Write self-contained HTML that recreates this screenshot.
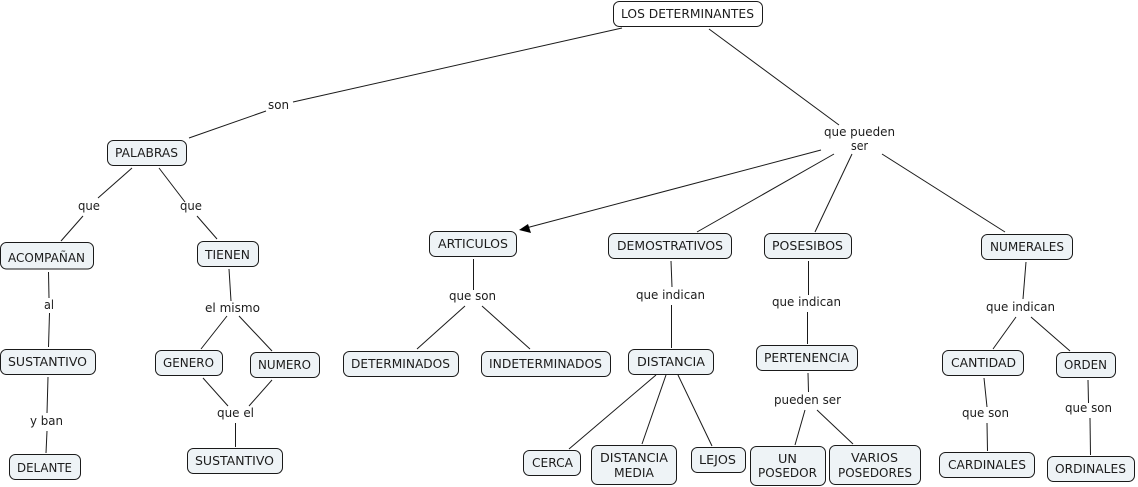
<!DOCTYPE html>
<html><head><meta charset="utf-8"><style>
html,body{margin:0;padding:0;background:#fff;width:1138px;height:487px;overflow:hidden}
svg{display:block}
text{font-family:"DejaVu Sans","Liberation Sans",sans-serif;font-size:12px;fill:#1c1c1c}
rect{fill:#eef3f6;stroke:#1a1a1a;stroke-width:1}
line{stroke:#1a1a1a;stroke-width:1}
</style></head><body>
<svg width="1138" height="487" viewBox="0 0 1138 487" xmlns="http://www.w3.org/2000/svg" lengthAdjust="spacingAndGlyphs">
<g>
<line x1="622" y1="28" x2="293" y2="102"/><line x1="266" y1="111" x2="189" y2="138"/>
<line x1="709" y1="29" x2="839" y2="125"/>
<line x1="821" y1="150" x2="526" y2="228"/>
<line x1="834" y1="154" x2="697" y2="232"/>
<line x1="852" y1="154" x2="815" y2="232"/>
<line x1="882" y1="154" x2="1005" y2="232"/>
<line x1="132" y1="168" x2="98" y2="198"/><line x1="83" y1="216" x2="61" y2="241"/>
<line x1="159" y1="168" x2="185" y2="202"/><line x1="197" y1="216" x2="217" y2="239"/>
<line x1="48.5" y1="272" x2="49" y2="298"/><line x1="49.5" y1="313" x2="48.5" y2="347"/>
<line x1="48" y1="377" x2="47" y2="413"/><line x1="47" y1="431" x2="46" y2="453"/>
<line x1="229" y1="269" x2="231" y2="301"/>
<line x1="227" y1="316" x2="201" y2="349"/><line x1="239" y1="316" x2="272" y2="351"/>
<line x1="203" y1="378" x2="228" y2="406"/><line x1="272" y1="380" x2="249" y2="406"/>
<line x1="235.5" y1="423" x2="235.5" y2="447"/>
<line x1="473.5" y1="259" x2="473.5" y2="290"/>
<line x1="465" y1="306" x2="417" y2="349"/><line x1="482" y1="306" x2="530" y2="349"/>
<line x1="671" y1="261" x2="672" y2="287"/><line x1="671.5" y1="305" x2="671.5" y2="348"/>
<line x1="656" y1="375" x2="569" y2="449"/><line x1="666" y1="375" x2="642" y2="444"/><line x1="678" y1="375" x2="712" y2="446"/>
<line x1="808.5" y1="261" x2="808.5" y2="295"/><line x1="807.5" y1="312" x2="807.5" y2="344"/>
<line x1="808" y1="373" x2="808.5" y2="392"/>
<line x1="805" y1="410" x2="795" y2="445"/><line x1="817" y1="410" x2="853" y2="444"/>
<line x1="1026" y1="262" x2="1023" y2="299"/>
<line x1="1016" y1="317" x2="993" y2="349"/><line x1="1031" y1="317" x2="1070" y2="351"/>
<line x1="984" y1="378" x2="987" y2="407"/><line x1="987" y1="423" x2="987.5" y2="451"/>
<line x1="1088" y1="380" x2="1088.5" y2="403"/><line x1="1090" y1="418" x2="1090.5" y2="455"/>
<polygon points="519,230 528,224 531,233" fill="#000"/>
</g>
<g>
<rect x="613.5" y="1.5" width="149" height="25" rx="6" style="fill:#fff"/>
<rect x="107.5" y="140.5" width="79" height="25" rx="6"/>
<rect x="0.5" y="242.5" width="93" height="26.5" rx="6"/>
<rect x="197.5" y="241.5" width="61" height="25" rx="6"/>
<rect x="0.5" y="349.5" width="95" height="25" rx="6"/>
<rect x="155.5" y="350.5" width="67" height="25" rx="6"/>
<rect x="250.5" y="352.5" width="69" height="25" rx="6"/>
<rect x="9.5" y="454.5" width="71" height="25" rx="6"/>
<rect x="187.5" y="448.5" width="95" height="25" rx="6"/>
<rect x="429.5" y="231.5" width="87" height="25" rx="6"/>
<rect x="608.5" y="233.5" width="123" height="25" rx="6"/>
<rect x="343.5" y="351.5" width="115" height="25" rx="6"/>
<rect x="481.5" y="351.5" width="129" height="25" rx="6"/>
<rect x="628.5" y="349.5" width="85" height="25" rx="6"/>
<rect x="523.5" y="450.5" width="57" height="25" rx="6"/>
<rect x="591.5" y="445.5" width="85" height="39" rx="6"/>
<rect x="691.5" y="447.5" width="54" height="25" rx="6"/>
<rect x="764.5" y="233.5" width="87" height="25" rx="6"/>
<rect x="981.5" y="234.5" width="91" height="25" rx="6"/>
<rect x="756.5" y="345.5" width="101" height="25" rx="6"/>
<rect x="942.5" y="350.5" width="81" height="25" rx="6"/>
<rect x="1056.5" y="352.5" width="59" height="25" rx="6"/>
<rect x="750.5" y="446.5" width="75" height="39" rx="6"/>
<rect x="829.5" y="445.5" width="91" height="39" rx="6"/>
<rect x="939.5" y="452.5" width="95" height="25" rx="6"/>
<rect x="1047.5" y="456.5" width="87" height="25" rx="6"/>
</g>
<g>
<text x="621" y="18" textLength="133" lengthAdjust="spacingAndGlyphs">LOS DETERMINANTES</text>
<text x="115" y="157" textLength="63" lengthAdjust="spacingAndGlyphs">PALABRAS</text>
<text x="8" y="262" textLength="77" lengthAdjust="spacingAndGlyphs">ACOMPAÑAN</text>
<text x="205" y="259" textLength="45" lengthAdjust="spacingAndGlyphs">TIENEN</text>
<text x="8" y="366" textLength="79" lengthAdjust="spacingAndGlyphs">SUSTANTIVO</text>
<text x="163" y="367" textLength="51" lengthAdjust="spacingAndGlyphs">GENERO</text>
<text x="258" y="369" textLength="53" lengthAdjust="spacingAndGlyphs">NUMERO</text>
<text x="17" y="472" textLength="55" lengthAdjust="spacingAndGlyphs">DELANTE</text>
<text x="195" y="465" textLength="79" lengthAdjust="spacingAndGlyphs">SUSTANTIVO</text>
<text x="438" y="248" textLength="70" lengthAdjust="spacingAndGlyphs">ARTICULOS</text>
<text x="617" y="250" textLength="106" lengthAdjust="spacingAndGlyphs">DEMOSTRATIVOS</text>
<text x="351" y="368" textLength="99" lengthAdjust="spacingAndGlyphs">DETERMINADOS</text>
<text x="489" y="368" textLength="113" lengthAdjust="spacingAndGlyphs">INDETERMINADOS</text>
<text x="637" y="366" textLength="68" lengthAdjust="spacingAndGlyphs">DISTANCIA</text>
<text x="532" y="467" textLength="41" lengthAdjust="spacingAndGlyphs">CERCA</text>
<text x="600" y="462" textLength="68" lengthAdjust="spacingAndGlyphs">DISTANCIA</text>
<text x="614" y="477" textLength="40" lengthAdjust="spacingAndGlyphs">MEDIA</text>
<text x="699" y="464" textLength="37" lengthAdjust="spacingAndGlyphs">LEJOS</text>
<text x="772" y="250" textLength="71" lengthAdjust="spacingAndGlyphs">POSESIBOS</text>
<text x="990" y="251" textLength="74" lengthAdjust="spacingAndGlyphs">NUMERALES</text>
<text x="764" y="362" textLength="85" lengthAdjust="spacingAndGlyphs">PERTENENCIA</text>
<text x="951" y="367" textLength="65" lengthAdjust="spacingAndGlyphs">CANTIDAD</text>
<text x="1064" y="369" textLength="43" lengthAdjust="spacingAndGlyphs">ORDEN</text>
<text x="778" y="463" textLength="19" lengthAdjust="spacingAndGlyphs">UN</text>
<text x="758" y="477" textLength="59" lengthAdjust="spacingAndGlyphs">POSEDOR</text>
<text x="851" y="462" textLength="47" lengthAdjust="spacingAndGlyphs">VARIOS</text>
<text x="838" y="477" textLength="74" lengthAdjust="spacingAndGlyphs">POSEDORES</text>
<text x="948" y="469" textLength="78" lengthAdjust="spacingAndGlyphs">CARDINALES</text>
<text x="1055" y="473" textLength="71" lengthAdjust="spacingAndGlyphs">ORDINALES</text>
<text x="268" y="109" textLength="21" lengthAdjust="spacingAndGlyphs">son</text>
<text x="824" y="136" textLength="71" lengthAdjust="spacingAndGlyphs">que pueden</text>
<text x="851" y="150" textLength="17" lengthAdjust="spacingAndGlyphs">ser</text>
<text x="78" y="210" textLength="22" lengthAdjust="spacingAndGlyphs">que</text>
<text x="180" y="210" textLength="22" lengthAdjust="spacingAndGlyphs">que</text>
<text x="44" y="309" textLength="10" lengthAdjust="spacingAndGlyphs">al</text>
<text x="30" y="425" textLength="33" lengthAdjust="spacingAndGlyphs">y ban</text>
<text x="205" y="312" textLength="55" lengthAdjust="spacingAndGlyphs">el mismo</text>
<text x="217" y="417" textLength="37" lengthAdjust="spacingAndGlyphs">que el</text>
<text x="449" y="300" textLength="47" lengthAdjust="spacingAndGlyphs">que son</text>
<text x="636" y="299" textLength="69" lengthAdjust="spacingAndGlyphs">que indican</text>
<text x="772" y="306" textLength="69" lengthAdjust="spacingAndGlyphs">que indican</text>
<text x="986" y="311" textLength="69" lengthAdjust="spacingAndGlyphs">que indican</text>
<text x="774" y="404" textLength="67" lengthAdjust="spacingAndGlyphs">pueden ser</text>
<text x="962" y="417" textLength="47" lengthAdjust="spacingAndGlyphs">que son</text>
<text x="1065" y="412" textLength="47" lengthAdjust="spacingAndGlyphs">que son</text>
</g>
</svg>
</body></html>
